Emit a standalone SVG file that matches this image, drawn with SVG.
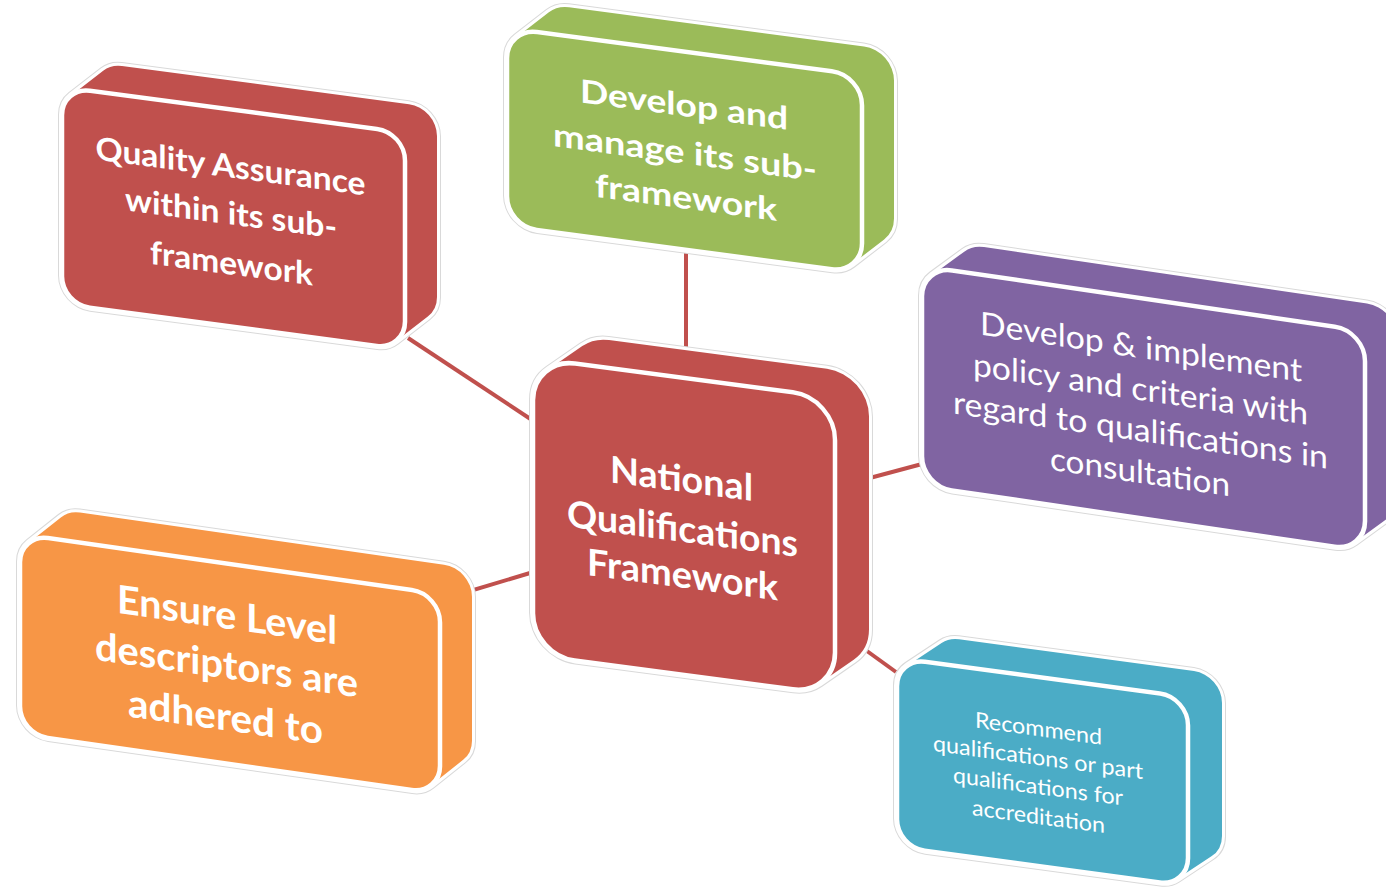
<svg xmlns="http://www.w3.org/2000/svg" width="1386" height="892" viewBox="0 0 1386 892">
<style>
.ol{fill:#d9d9d9;stroke:#d9d9d9;stroke-linejoin:round}
.wh{fill:#fff;stroke:#fff;stroke-linejoin:round}
.tb{fill:#fff;font-family:Lato,"Open Sans",sans-serif;font-weight:bold;text-anchor:middle}
.tr{fill:#fff;font-family:Lato,"Open Sans",sans-serif;font-weight:normal;text-anchor:middle}
.red{fill:#C0504D;stroke:#C0504D}
.grn{fill:#9BBB59;stroke:#9BBB59}
.pur{fill:#8064A2;stroke:#8064A2}
.tea{fill:#4BACC6;stroke:#4BACC6}
.org{fill:#F79646;stroke:#F79646}
.hull{stroke-linejoin:round}
rect.face{stroke:#fff;stroke-width:4.5}
.conn line{stroke:#C0504D;stroke-width:4}
</style>
<rect width="1386" height="892" fill="#fff"/>
<g id="connectors" class="conn">
<line x1="408" y1="338" x2="532" y2="420"/>
<line x1="686" y1="250" x2="686" y2="355"/>
<line x1="866" y1="479" x2="922" y2="464"/>
<line x1="440" y1="600" x2="530" y2="573"/>
<line x1="860" y1="646" x2="896" y2="672"/>
</g>
<g id="node-quality" transform="matrix(1,0.133,0,1,62,87)">
<polygon class="ol" stroke-width="64" points="28,28 60,-1 347,-1 347,160 315,189 28,189"/>
<polygon class="wh" stroke-width="62" points="28,28 60,-1 347,-1 347,160 315,189 28,189"/>
<polygon class="red hull" stroke-width="56" points="28,28 60,-1 347,-1 347,160 315,189 28,189"/>
<rect class="red face" x="0" y="0" width="343" height="217" rx="28"/>
<text class="tb" font-size="32" x="168.5" y="68" textLength="270" lengthAdjust="spacingAndGlyphs">Quality Assurance</text>
<text class="tb" font-size="32" x="169" y="115" textLength="212" lengthAdjust="spacingAndGlyphs">within its sub-</text>
<text class="tb" font-size="32" x="169.5" y="165" textLength="163" lengthAdjust="spacingAndGlyphs">framework</text>
</g>
<g id="node-develop" transform="matrix(1,0.133,0,1,507,28)">
<polygon class="ol" stroke-width="68" points="30,30 62,1 357,1 357,139 325,168 30,168"/>
<polygon class="wh" stroke-width="66" points="30,30 62,1 357,1 357,139 325,168 30,168"/>
<polygon class="grn hull" stroke-width="60" points="30,30 62,1 357,1 357,139 325,168 30,168"/>
<rect class="grn face" x="0" y="0" width="355" height="198" rx="30"/>
<text class="tb" font-size="32" x="177" y="64.5" textLength="208" lengthAdjust="spacingAndGlyphs">Develop and</text>
<text class="tb" font-size="32" x="178" y="112" textLength="264" lengthAdjust="spacingAndGlyphs">manage its sub-</text>
<text class="tb" font-size="32" x="179" y="157" textLength="182" lengthAdjust="spacingAndGlyphs">framework</text>
</g>
<g id="node-nqf" transform="matrix(1,0.132,0,1,533,358)">
<polygon class="ol" stroke-width="92" points="42,42 76,14 294,14 294,227 260,255 42,255"/>
<polygon class="wh" stroke-width="90" points="42,42 76,14 294,14 294,227 260,255 42,255"/>
<polygon class="red hull" stroke-width="84" points="42,42 76,14 294,14 294,227 260,255 42,255"/>
<rect class="red face" x="0" y="0" width="302" height="297" rx="42"/>
<text class="tb" font-size="37" x="148.5" y="114" textLength="143" lengthAdjust="spacingAndGlyphs">National</text>
<text class="tb" font-size="37" x="149.5" y="164" textLength="231" lengthAdjust="spacingAndGlyphs">Qualifications</text>
<text class="tb" font-size="37" x="149.5" y="210" textLength="191" lengthAdjust="spacingAndGlyphs">Framework</text>
</g>
<g id="node-policy" transform="matrix(1,0.147,0,1,922,266)">
<polygon class="ol" stroke-width="68" points="30,30 62,2 445,2 445,162 413,190 30,190"/>
<polygon class="wh" stroke-width="66" points="30,30 62,2 445,2 445,162 413,190 30,190"/>
<polygon class="pur hull" stroke-width="60" points="30,30 62,2 445,2 445,162 413,190 30,190"/>
<rect class="pur face" x="0" y="0" width="443" height="220" rx="30"/>
<text class="tr" font-size="32" x="219" y="60" textLength="322" lengthAdjust="spacingAndGlyphs">Develop &amp; implement</text>
<text class="tr" font-size="32" x="218.5" y="102" textLength="335" lengthAdjust="spacingAndGlyphs">policy and criteria with</text>
<text class="tr" font-size="32" x="218.5" y="143" textLength="375" lengthAdjust="spacingAndGlyphs">regard to qualifications in</text>
<text class="tr" font-size="32" x="218" y="185" textLength="180" lengthAdjust="spacingAndGlyphs">consultation</text>
</g>
<g id="node-recommend" transform="matrix(1,0.135,0,1,897,658)">
<polygon class="ol" stroke-width="64" points="28,28 62,1 297,1 297,134 263,161 28,161"/>
<polygon class="wh" stroke-width="62" points="28,28 62,1 297,1 297,134 263,161 28,161"/>
<polygon class="tea hull" stroke-width="56" points="28,28 62,1 297,1 297,134 263,161 28,161"/>
<rect class="tea face" x="0" y="0" width="291" height="189" rx="28"/>
<text class="tr" font-size="22" x="141.5" y="59" textLength="127" lengthAdjust="spacingAndGlyphs">Recommend</text>
<text class="tr" font-size="22" x="141" y="88" textLength="210" lengthAdjust="spacingAndGlyphs">qualifications or part</text>
<text class="tr" font-size="22" x="141" y="117" textLength="170" lengthAdjust="spacingAndGlyphs">qualifications for</text>
<text class="tr" font-size="22" x="141.5" y="147" textLength="133" lengthAdjust="spacingAndGlyphs">accreditation</text>
</g>
<g id="node-ensure" transform="matrix(1,0.143,0,1,20,534)">
<polygon class="ol" stroke-width="64" points="28,28 60,-2 424,-2 424,142 392,172 28,172"/>
<polygon class="wh" stroke-width="62" points="28,28 60,-2 424,-2 424,142 392,172 28,172"/>
<polygon class="org hull" stroke-width="56" points="28,28 60,-2 424,-2 424,142 392,172 28,172"/>
<rect class="org face" x="0" y="0" width="420" height="200" rx="28"/>
<text class="tb" font-size="39" x="207" y="65" textLength="220" lengthAdjust="spacingAndGlyphs">Ensure Level</text>
<text class="tb" font-size="39" x="206.5" y="115" textLength="263" lengthAdjust="spacingAndGlyphs">descriptors are</text>
<text class="tb" font-size="39" x="205.5" y="167" textLength="195" lengthAdjust="spacingAndGlyphs">adhered to</text>
</g>
</svg>
